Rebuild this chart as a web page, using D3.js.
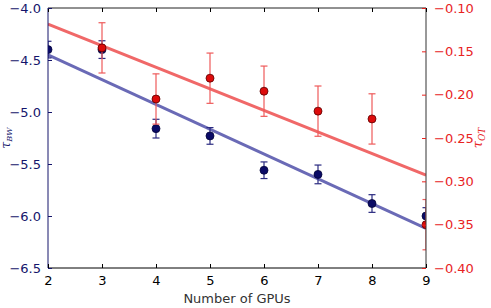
<!DOCTYPE html>
<html><head><meta charset="utf-8">
<script src="https://cdn.jsdelivr.net/npm/d3@7"></script>
<style>body{margin:0;background:#fff;} svg{display:block;font-family:"DejaVu Sans",sans-serif;}</style>
</head><body>
<svg id="c" width="491" height="308"></svg>
<script>
const gpusBW = [2, 3, 4, 5, 6, 7, 8, 9];
const tauBW = [-4.40, -4.40, -5.16, -5.23, -5.56, -5.60, -5.88, -6.00];
const errBW = [0.08, 0.085, 0.09, 0.08, 0.08, 0.09, 0.085, 0.08];
const fitBW = [[2, -4.45], [9, -6.12]];

const gpusOT = [3, 4, 5, 6, 7, 8, 9];
const tauOT = [-0.146, -0.205, -0.181, -0.196, -0.219, -0.228, -0.350];
const errOT = [0.029, 0.029, 0.029, 0.029, 0.029, 0.029, 0.029];
const fitOT = [[2, -0.1185], [9, -0.2927]];

const xTicks = [2, 3, 4, 5, 6, 7, 8, 9];
const yLeftTicks = [-4.0, -4.5, -5.0, -5.5, -6.0, -6.5];
const yRightTicks = [-0.10, -0.15, -0.20, -0.25, -0.30, -0.35, -0.40];

const L = 48, R = 426, T = 8, B = 268;
const svg = d3.select("#c");
const x = d3.scaleLinear().domain([2, 9]).range([L, R]);
const yL = d3.scaleLinear().domain([-6.5, -4.0]).range([B, T]);
const yR = d3.scaleLinear().domain([-0.40, -0.10]).range([B, T]);

const navy = "#14146b", red = "#e8231f";
svg.append("defs").append("clipPath").attr("id", "clip")
  .append("rect").attr("x", L).attr("y", T).attr("width", R - L).attr("height", B - T);

const plot = svg.append("g").attr("clip-path", "url(#clip)");
const line = (ys) => d3.line().x(d => x(d[0])).y(d => ys(d[1]));

// blue series
plot.append("path").datum(fitBW).attr("d", line(yL)).attr("fill", "none")
  .attr("stroke", "#6a6ab6").attr("stroke-width", 3);
const gB = plot.append("g");
gpusBW.forEach((g, i) => {
  const cx = x(g), y0 = yL(tauBW[i] - errBW[i]), y1 = yL(tauBW[i] + errBW[i]);
  gB.append("line").attr("x1", cx).attr("x2", cx).attr("y1", y0).attr("y2", y1).attr("stroke", "#2a2a80").attr("stroke-width", 1.2);
  [y0, y1].forEach(yy => gB.append("line").attr("x1", cx - 3.5).attr("x2", cx + 3.5).attr("y1", yy).attr("y2", yy).attr("stroke", "#2a2a80").attr("stroke-width", 1.2));
});
gB.selectAll("circle").data(gpusBW).join("circle")
  .attr("cx", d => x(d)).attr("cy", (d, i) => yL(tauBW[i])).attr("r", 4)
  .attr("fill", "#0a0a66").attr("stroke", "#05053a").attr("stroke-width", 0.8);

// red series
plot.append("path").datum(fitOT).attr("d", line(yR)).attr("fill", "none")
  .attr("stroke", "#f06868").attr("stroke-width", 3);
const gR = plot.append("g");
gpusOT.forEach((g, i) => {
  const cx = x(g), y0 = yR(tauOT[i] - errOT[i]), y1 = yR(tauOT[i] + errOT[i]);
  gR.append("line").attr("x1", cx).attr("x2", cx).attr("y1", y0).attr("y2", y1).attr("stroke", "#ee5a5a").attr("stroke-width", 1.2);
  [y0, y1].forEach(yy => gR.append("line").attr("x1", cx - 3.5).attr("x2", cx + 3.5).attr("y1", yy).attr("y2", yy).attr("stroke", "#ee5a5a").attr("stroke-width", 1.2));
});
gR.selectAll("circle").data(gpusOT).join("circle")
  .attr("cx", d => x(d)).attr("cy", (d, i) => yR(tauOT[i])).attr("r", 4)
  .attr("fill", "#dd0b0b").attr("stroke", "#5a0000").attr("stroke-width", 0.8);

// spines
svg.append("line").attr("x1", L).attr("x2", R).attr("y1", T).attr("y2", T).attr("stroke", "#222").attr("stroke-width", 1);
svg.append("line").attr("x1", L).attr("x2", R).attr("y1", B).attr("y2", B).attr("stroke", "#000").attr("stroke-width", 1);
svg.append("line").attr("x1", L).attr("x2", L).attr("y1", T).attr("y2", B).attr("stroke", navy).attr("stroke-width", 1);
svg.append("line").attr("x1", R).attr("x2", R).attr("y1", T).attr("y2", B).attr("stroke", "#333").attr("stroke-width", 1);

const fmt1 = d3.format(".1f"), fmt2 = d3.format(".2f");
const minus = s => s.replace("-", "\u2212");

// bottom axis
const ax = d3.axisBottom(x).tickValues(xTicks).tickSize(-4).tickPadding(8).tickFormat(d3.format("d"));
const gx = svg.append("g").attr("transform", `translate(0,${B})`).call(ax);
gx.select(".domain").remove();
gx.selectAll("line").attr("stroke", "#000");
gx.selectAll("text").attr("fill", "#000").attr("font-size", 13).attr("font-family", "DejaVu Sans");
// top ticks
const at = d3.axisTop(x).tickValues(xTicks).tickSize(-4).tickFormat("");
const gt = svg.append("g").attr("transform", `translate(0,${T})`).call(at);
gt.select(".domain").remove();
gt.selectAll("line").attr("stroke", "#000");

// left axis
const al = d3.axisLeft(yL).tickValues(yLeftTicks).tickSize(-4).tickPadding(7).tickFormat(d => minus(fmt1(d)));
const gl = svg.append("g").attr("transform", `translate(${L},0)`).call(al);
gl.select(".domain").remove();
gl.selectAll("line").attr("stroke", navy);
gl.selectAll("text").attr("fill", navy).attr("font-size", 13).attr("font-family", "DejaVu Sans");

// right axis
const ar = d3.axisRight(yR).tickValues(yRightTicks).tickSize(-4).tickPadding(8).tickFormat(d => minus(fmt2(d)));
const gr = svg.append("g").attr("transform", `translate(${R},0)`).call(ar);
gr.select(".domain").remove();
gr.selectAll("line").attr("stroke", red);
gr.selectAll("text").attr("fill", red).attr("font-size", 13).attr("font-family", "DejaVu Sans");

// axis labels
svg.append("text").attr("x", (L + R) / 2).attr("y", 303).attr("text-anchor", "middle")
  .attr("font-size", 13).attr("fill", "#333").text("Number of GPUs");
const lt = svg.append("text").attr("transform", `translate(10,${(T + B) / 2}) rotate(-90)`)
  .attr("text-anchor", "middle").attr("font-size", 12).attr("fill", navy).attr("font-family", "DejaVu Serif");
lt.append("tspan").attr("font-style", "italic").text("τ");
lt.append("tspan").attr("font-size", 8).attr("dy", 2).attr("font-style", "italic").text("BW");
const rt = svg.append("text").attr("transform", `translate(482,${(T + B) / 2}) rotate(-90)`)
  .attr("text-anchor", "middle").attr("font-size", 13).attr("fill", red).attr("font-family", "DejaVu Serif");
rt.append("tspan").attr("font-style", "italic").text("τ");
rt.append("tspan").attr("font-size", 9).attr("dy", 3).attr("font-style", "italic").text("OT");
</script>
</body></html>
